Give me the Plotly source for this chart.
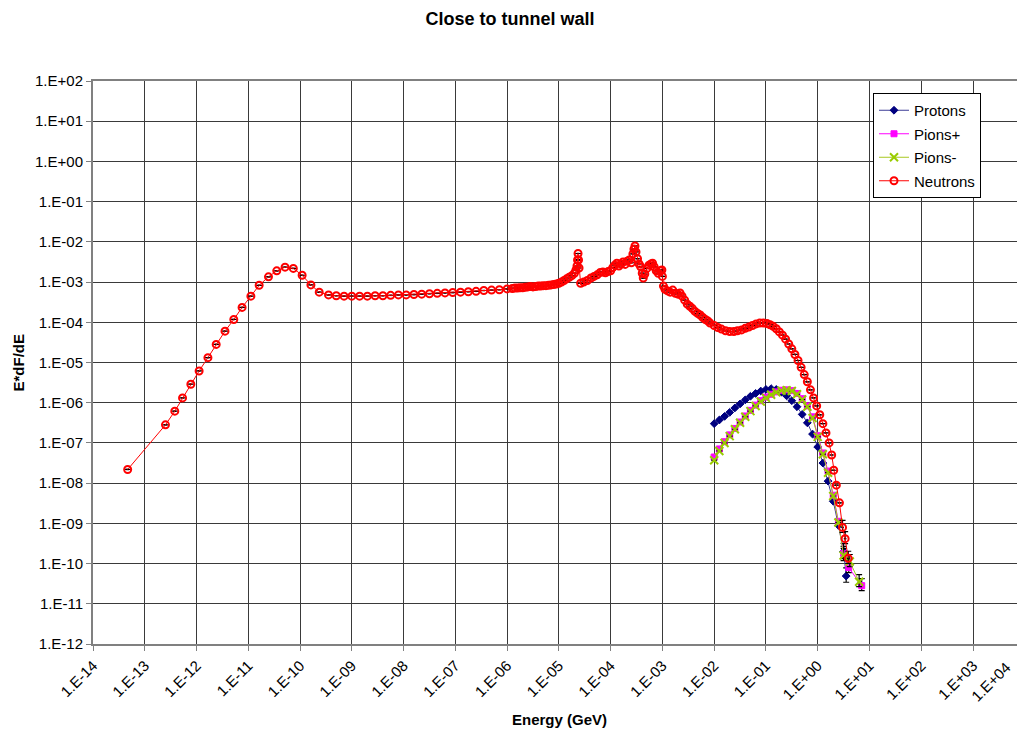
import plotly.graph_objects as go

# ---- data (log10 values) ----
neutron_log_e = [
    -13.33, -12.60, -12.42, -12.27, -12.11, -11.95, -11.78, -11.62, -11.45, -11.28,
    -11.12, -10.95, -10.79, -10.61, -10.45, -10.29, -10.13, -9.96, -9.79, -9.63, -9.45,
    -9.30, -9.15, -9.00, -8.85, -8.70, -8.55, -8.40, -8.25, -8.10, -7.95, -7.80, -7.65,
    -7.50, -7.35, -7.20, -7.05, -6.90, -6.75, -6.60, -6.45, -6.30, -6.15, -6.00,
    -5.90, -5.85, -5.80, -5.75, -5.70, -5.65, -5.60, -5.55, -5.50, -5.45, -5.40, -5.35,
    -5.30, -5.25, -5.20, -5.15, -5.10, -5.05, -5.00, -4.95, -4.90, -4.85, -4.80, -4.75,
    -4.70, -4.67, -4.65, -4.64, -4.63, -4.62, -4.61, -4.58, -4.52, -4.45, -4.38, -4.32,
    -4.26, -4.20, -4.15, -4.10, -4.05, -4.00, -3.96, -3.92, -3.88, -3.84, -3.80, -3.76,
    -3.72, -3.68, -3.64, -3.60, -3.57, -3.55, -3.53, -3.51, -3.48, -3.45, -3.42, -3.39,
    -3.37, -3.34, -3.30, -3.26, -3.22, -3.19, -3.16, -3.12, -3.08, -3.04, -3.01, -3.00,
    -2.98, -2.95, -2.90, -2.85, -2.80, -2.75, -2.70, -2.66, -2.62, -2.57, -2.52, -2.47,
    -2.42, -2.37, -2.32, -2.27, -2.22, -2.17, -2.12, -2.08, -2.00, -1.93, -1.86, -1.78,
    -1.70, -1.62, -1.55, -1.47, -1.40, -1.33, -1.26, -1.19, -1.12, -1.05, -0.98, -0.92,
    -0.86, -0.80, -0.74, -0.68, -0.62, -0.56, -0.50, -0.44, -0.38, -0.32, -0.26, -0.20,
    -0.14, -0.08, -0.02, 0.04, 0.10, 0.16, 0.22, 0.27, 0.31, 0.36, 0.42, 0.48, 0.53, 0.59,
]
neutron_log_f = [
    -7.66, -6.55, -6.21, -5.88, -5.54, -5.21, -4.88, -4.55, -4.22, -3.93,
    -3.63, -3.35, -3.08, -2.87, -2.72, -2.63, -2.66, -2.83, -3.07, -3.25, -3.32,
    -3.34, -3.35, -3.35, -3.35, -3.35, -3.34, -3.34, -3.33, -3.32, -3.32, -3.31, -3.30,
    -3.29, -3.28, -3.27, -3.26, -3.25, -3.24, -3.23, -3.21, -3.20, -3.19, -3.17,
    -3.16, -3.15, -3.15, -3.14, -3.14, -3.13, -3.12, -3.11, -3.12, -3.11, -3.10, -3.10,
    -3.09, -3.09, -3.08, -3.07, -3.06, -3.05, -3.03, -3.00, -2.96, -2.92, -2.88, -2.84,
    -2.78, -2.70, -2.60, -2.45, -2.29, -2.45, -2.65, -3.03, -3.00, -2.96, -2.90, -2.86,
    -2.82, -2.76, -2.75, -2.77, -2.74, -2.72, -2.64, -2.58, -2.53, -2.60, -2.55, -2.50,
    -2.56, -2.48, -2.45, -2.52, -2.30, -2.18, -2.10, -2.25, -2.42, -2.55, -2.62, -2.78,
    -2.90, -2.80, -2.66, -2.58, -2.55, -2.53, -2.62, -2.72, -2.78, -2.72, -2.70, -2.86,
    -3.10, -3.18, -3.22, -3.25, -3.20, -3.28, -3.30, -3.27, -3.35, -3.45, -3.55, -3.60,
    -3.66, -3.73, -3.78, -3.82, -3.88, -3.93, -3.97, -4.02, -4.08, -4.13, -4.17, -4.21,
    -4.23, -4.23, -4.21, -4.19, -4.15, -4.12, -4.08, -4.04, -4.02, -4.02, -4.03, -4.06,
    -4.10, -4.16, -4.24, -4.32, -4.42, -4.54, -4.66, -4.80, -4.95, -5.12, -5.30, -5.48,
    -5.68, -5.88, -6.08, -6.30, -6.52, -6.75, -7.00, -7.30, -7.68, -8.05, -8.49, -9.10, -9.38, -9.87,
]

proton_log_e = [-2.00, -1.90, -1.80, -1.70, -1.60, -1.50, -1.40, -1.30, -1.20, -1.10, -1.00,
                -0.90, -0.80, -0.70, -0.60, -0.50, -0.40, -0.30, -0.20, -0.10, 0.00, 0.10,
                0.20, 0.30, 0.40, 0.50, 0.55]
proton_log_f = [-6.52, -6.43, -6.34, -6.24, -6.13, -6.03, -5.93, -5.84, -5.77, -5.71, -5.67,
                -5.65, -5.67, -5.74, -5.83, -5.95, -6.10, -6.29, -6.50, -6.78, -7.10, -7.50,
                -7.95, -8.45, -9.05, -9.70, -10.31]

pionp_log_e = [-2.00, -1.90, -1.80, -1.70, -1.60, -1.50, -1.40, -1.30, -1.20, -1.10, -1.00,
               -0.90, -0.80, -0.70, -0.60, -0.50, -0.40, -0.30, -0.20, -0.10, 0.00, 0.10,
               0.20, 0.30, 0.40, 0.50, 0.60, 0.85]
pionp_log_f = [-7.35, -7.15, -6.97, -6.80, -6.64, -6.48, -6.33, -6.19, -6.06, -5.95, -5.86,
               -5.79, -5.73, -5.69, -5.68, -5.70, -5.77, -5.90, -6.08, -6.35, -6.82, -7.25,
               -7.70, -8.30, -8.95, -9.75, -10.10, -10.55]

pionm_log_e = [-2.00, -1.90, -1.80, -1.70, -1.60, -1.50, -1.40, -1.30, -1.20, -1.10, -1.00,
               -0.90, -0.80, -0.70, -0.60, -0.50, -0.40, -0.30, -0.20, -0.10, 0.00, 0.10,
               0.20, 0.30, 0.40, 0.50, 0.62, 0.80]
pionm_log_f = [-7.43, -7.20, -7.00, -6.83, -6.66, -6.50, -6.35, -6.21, -6.08, -5.97, -5.88,
               -5.80, -5.74, -5.70, -5.69, -5.71, -5.79, -5.92, -6.10, -6.38, -6.85, -7.28,
               -7.74, -8.32, -8.98, -9.80, -9.95, -10.45]

x_tick_exp = list(range(-14, 5))
y_tick_exp = list(range(-12, 3))


def lab(e):
    return "1.E%s%02d" % ("+" if e >= 0 else "-", abs(e))


def tail_err(n, k, frac):
    return [0.0] * (n - k) + [frac] * k


def tr(name, le, lf, lcolor, mcolor, symbol, size, errfrac, k, lw=1):
    xs = [10 ** v for v in le]
    ys = [10 ** v for v in lf]
    err = [y * f for y, f in zip(ys, tail_err(len(ys), k, errfrac))]
    marker = dict(symbol=symbol, size=size, color=mcolor, line=dict(color=mcolor, width=lw))
    return go.Scatter(
        x=xs, y=ys, name=name, mode="lines+markers", legendgroup=name,
        line=dict(color=lcolor, width=1), marker=marker,
        error_y=dict(type="data", array=err, arrayminus=[e * 0.5 for e in err],
                     color="black", thickness=1.2, width=3, visible=True),
        error_x=dict(type="percent", value=6, color="black", thickness=1.5, width=0,
                     visible=True),
    )


fig = go.Figure()
fig.add_trace(tr("Protons", proton_log_e, proton_log_f, "#3c3c96", "#000080",
                 "diamond", 6, 0.6, 2))
fig.add_trace(tr("Pions+", pionp_log_e, pionp_log_f, "#ff00ff", "#ff00ff",
                 "square", 6, 0.5, 3))
fig.add_trace(tr("Pions-", pionm_log_e, pionm_log_f, "#a8c820", "#99cc00",
                 "x-thin", 8, 0.5, 3, lw=2))
fig.add_trace(tr("Neutrons", neutron_log_e, neutron_log_f, "#ff0000", "#ff0000",
                 "circle-open", 7, 0.5, 3, lw=2))

FONT = "Liberation Sans, Arial, sans-serif"
axis_font = dict(family=FONT, size=15, color="#000")
fig.update_layout(
    width=1017, height=731,
    margin=dict(l=93, r=0, t=81, b=87),
    paper_bgcolor="white", plot_bgcolor="white",
    font=axis_font,
    title=dict(text="<b>Close to tunnel wall</b>", x=510 / 1017, xref="container",
               xanchor="center", y=1 - 19 / 731, yref="container", yanchor="middle",
               font=dict(family=FONT, size=18, color="#000")),
    showlegend=True,
    legend=dict(x=(873 - 93) / 924, y=(644 - 93) / 563, xanchor="left", yanchor="top",
                bgcolor="white", bordercolor="#000", borderwidth=1,
                font=dict(family=FONT, size=15, color="#000"),
                tracegroupgap=1, itemwidth=30),
    xaxis=dict(type="log", range=[-14, 3.85], tickvals=[10 ** e for e in x_tick_exp],
               ticktext=[lab(e) for e in x_tick_exp], tickangle=-45,
               showgrid=True, gridcolor="#3a3a3a", gridwidth=1,
               showline=True, linecolor="#808080", linewidth=2, mirror=True,
               ticks="outside", ticklen=5, tickcolor="#808080", zeroline=False,
               tickfont=axis_font),
    yaxis=dict(type="log", range=[-12, 2], tickvals=[10 ** e for e in y_tick_exp],
               ticktext=[lab(e) for e in y_tick_exp],
               showgrid=True, gridcolor="#3a3a3a", gridwidth=1,
               showline=True, linecolor="#808080", linewidth=2,
               ticks="outside", ticklen=5, tickcolor="#808080", zeroline=False,
               tickfont=axis_font),
    annotations=[
        dict(text="<b>Energy (GeV)</b>", xref="paper", yref="paper", x=(559 - 93) / 924,
             y=-(719 - 644) / 563, xanchor="center", yanchor="middle", showarrow=False,
             font=dict(family=FONT, size=15, color="#000")),
        dict(text="<b>E*dF/dE</b>", xref="paper", yref="paper", x=-(93 - 18) / 924,
             y=0.5, xanchor="center", yanchor="middle", showarrow=False, textangle=-90,
             font=dict(family=FONT, size=15, color="#000")),
        dict(text=lab(4), xref="paper", yref="paper", x=1.0, y=-12 / 563,
             xanchor="right", yanchor="top", showarrow=False, textangle=-45,
             font=axis_font),
    ],
)

fig.write_html("out.html")
